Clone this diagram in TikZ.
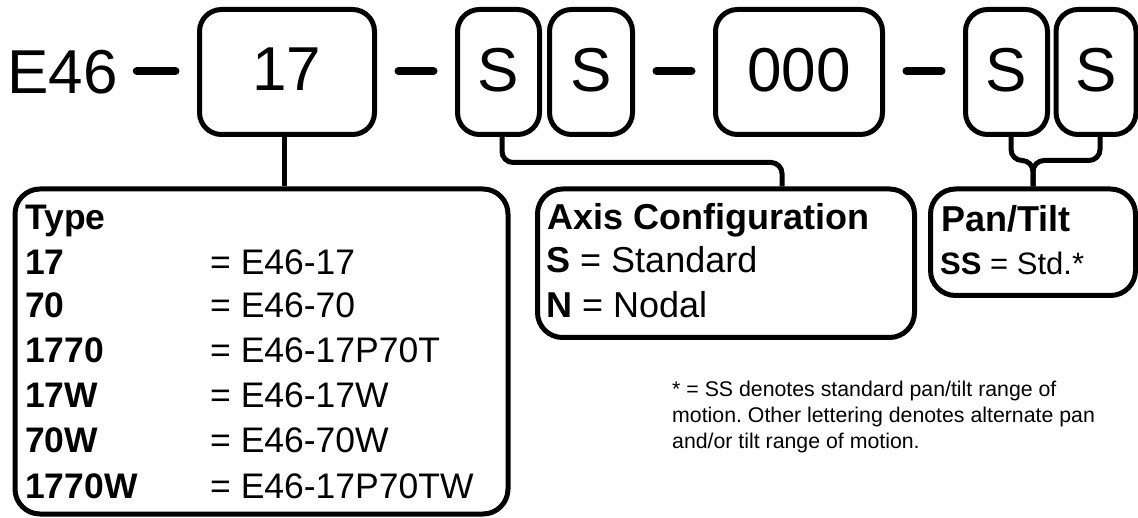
\documentclass[tikz,border=0pt]{standalone}
\usepackage{fontspec}
\setmainfont{Liberation Sans}
\usetikzlibrary{calc}
\frenchspacing
\begin{document}
\begin{tikzpicture}[x=1pt,y=-1pt,
  topbox/.style={draw, line width=5pt, rounded corners=22pt, inner sep=0pt, minimum height=125pt, text depth=5pt, font=\fontsize{62}{62}\selectfont},
  infobox/.style={draw, line width=5pt, rounded corners=25pt, inner sep=0pt},
  dashln/.style={line width=8pt, line cap=round},
  conn/.style={line width=5pt, rounded corners=11pt},
  tb/.style={anchor=base west, inner sep=0pt, font=\fontsize{35.5}{40}\selectfont\bfseries},
  tn/.style={anchor=base west, inner sep=0pt, font=\fontsize{35.5}{40}\selectfont},
  ab/.style={anchor=base west, inner sep=0pt, font=\fontsize{36}{40}\selectfont\bfseries},
  an/.style={anchor=base west, inner sep=0pt, font=\fontsize{36}{40}\selectfont},
  ps/.style={anchor=base west, inner sep=0pt, font=\fontsize{31}{36}\selectfont},
  fn/.style={anchor=base west, inner sep=0pt, font=\fontsize{21.3}{26}\selectfont}
]
\useasboundingbox (0,0) rectangle (1138,518);

% top row
\node[anchor=base west, inner sep=0pt, font=\fontsize{62}{62}\selectfont] (e46) at (7,94) {E46};
\node[topbox, minimum width=175pt] (b17) at (287,72) {17};
\node[topbox, minimum width=82pt] (s1) at (498.5,72) {S};
\node[topbox, minimum width=83pt] (s2) at (591,72) {S};
\node[topbox, minimum width=167pt] (b000) at (799,72) {000};
\node[topbox, minimum width=82pt] (s3) at (1006.5,72) {S};
\node[topbox, minimum width=80pt] (s4) at (1096,72) {S};

\coordinate (d0) at ($(e46.east)+(19,0)$);
\draw[dashln] (d0 |- 0,71) -- ($(b17.west |- 0,71)+(-21.5,0)$);
\draw[dashln] ($(b17.east |- 0,71)+(21.5,0)$) -- ($(s1.west |- 0,71)+(-21.5,0)$);
\draw[dashln] ($(s2.east |- 0,71)+(21.5,0)$) -- ($(b000.west |- 0,71)+(-21.5,0)$);
\draw[dashln] ($(b000.east |- 0,71)+(21.5,0)$) -- ($(s3.west |- 0,71)+(-21.5,0)$);

% info boxes
\node[infobox, minimum width=493pt, minimum height=325pt] (type) at (261.5,351.5) {};
\node[infobox, minimum width=377pt, minimum height=148.5pt] (axis) at (726,263.25) {};
\node[infobox, minimum width=205pt, minimum height=106.5pt] (pan) at (1033,242.25) {};

% connectors
\draw[line width=5pt] ($(b17.south)+(-2.5,0)$) -- ($(b17.south |- type.north)+(-2.5,0)$);
\coordinate (axin) at ($(axis.north)+(56,0)$);
\draw[conn] ($(s1.south)+(3.5,0)$) |- ($(axin)+(0,-24)$) -- (axin);
\coordinate (pm) at ($(pan.north)+(0,-26)$);
\draw[conn] ($(s3.south)+(4.5,0)$) |- (pm) -- (pan.north);
\draw[conn] ($(s4.south)+(4,0)$) |- (pm) -- (pan.north);

% Type box text
\node[tb] (t0) at (25,230) {Type};
\node[tb] (t1) at (25,275) {17};
\node[tn] (v1) at (210,275) {= E46-17};
\node[tb] (t2) at (25,318) {70};
\node[tn] (v2) at (210,318) {= E46-70};
\node[tb] (t3) at (25,363) {1770};
\node[tn] (v3) at (210,363) {= E46-17P70T};
\node[tb] (t4) at (25,408) {17W};
\node[tn] (v4) at (210,408) {= E46-17W};
\node[tb] (t5) at (25,453) {70W};
\node[tn] (v5) at (210,453) {= E46-70W};
\node[tb] (t6) at (25,498) {1770W};
\node[tn] (v6) at (210,498) {= E46-17P70TW};

% Axis box text
\node[ab] (a0) at (547,230) {Axis Configuration};
\node[an] (a1) at (546,273) {\textbf{S} = Standard};
\node[an] (a2) at (546,318) {\textbf{N} = Nodal};

% Pan/Tilt box text
\node[ab] (p0) at (941,232) {Pan/Tilt};
\node[ps] (p1) at (940,275) {\textbf{SS} = Std.*};

% footnote
\node[fn] (f1) at (672,397) {* = SS denotes standard pan/tilt range of};
\node[fn] (f2) at (672,423) {motion. Other lettering denotes alternate pan};
\node[fn] (f3) at (672,449) {and/or tilt range of motion.};
\end{tikzpicture}
\end{document}
